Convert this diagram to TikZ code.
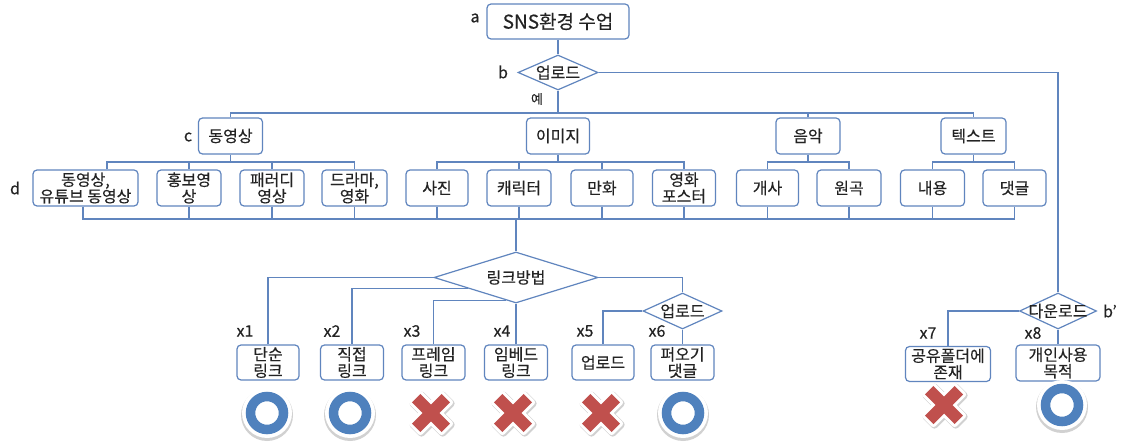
\documentclass[tikz,border=0pt]{standalone}
\usepackage{fontspec}
\setmainfont{Noto Sans CJK KR}[FakeBold=0.35]
\usetikzlibrary{shapes.geometric,calc}
\definecolor{lc}{RGB}{96,133,190}
\definecolor{okblue}{RGB}{79,129,189}
\definecolor{nored}{RGB}{192,80,77}
\definecolor{txt}{RGB}{35,35,35}
\begin{document}
\begin{tikzpicture}[x=1pt,y=-1pt,
  box/.style={draw=lc, line width=1.2pt, rounded corners=4pt, fill=white, inner sep=0pt,
    minimum height=35pt, align=center, text=txt, font=\fontsize{16}{16.5}\selectfont},
  dia/.style={draw=lc, line width=1.2pt, diamond, inner sep=0pt, fill=white},
  dtext/.style={text=txt, inner sep=0pt, font=\fontsize{16}{17}\selectfont},
  conn/.style={draw=lc, line width=1.2pt},
  lab/.style={text=txt, inner sep=0pt, font=\fontsize{16}{18}\selectfont},
  okpic/.pic={
    \fill[black!18] (0pt,-2pt) circle (26pt);
    \fill[white] (0,0) circle (25pt);
    \draw[okblue, line width=9.5pt] (0,0) circle (16.5pt);
  },
  nopic/.pic={
    \begin{scope}[rotate=45]
      \path[fill=black!18, draw=black!18, line width=7pt, line join=round, shift={(0pt,-1.5pt)}]
        (6,-21) -- (6,-6) -- (21,-6) -- (21,6) -- (6,6) -- (6,21) -- (-6,21) -- (-6,6)
        -- (-21,6) -- (-21,-6) -- (-6,-6) -- (-6,-21) -- cycle;
      \path[fill=white, draw=white, line width=6pt, line join=round]
        (6,-21) -- (6,-6) -- (21,-6) -- (21,6) -- (6,6) -- (6,21) -- (-6,21) -- (-6,6)
        -- (-21,6) -- (-21,-6) -- (-6,-6) -- (-6,-21) -- cycle;
      \fill[nored]
        (6,-21) -- (6,-6) -- (21,-6) -- (21,6) -- (6,6) -- (6,21) -- (-6,21) -- (-6,6)
        -- (-21,6) -- (-21,-6) -- (-6,-6) -- (-6,-21) -- cycle;
    \end{scope}
  }
]
\useasboundingbox[fill=white] (0,0) rectangle (1123,443);

% top
\node[box, minimum width=142pt, font=\fontsize{19}{20}\selectfont] (a) at (558,21.5) {SNS환경 수업};
\node[dia, minimum width=80pt, minimum height=35pt] (b) at (558,72.5) {};
\node[dtext] (bt) at (b) {업로드};

% level 1
\node[box, minimum width=64pt, minimum height=36pt] (c1) at (230.5,136) {동영상};
\node[box, minimum width=63pt, minimum height=36pt] (c2) at (558,136) {이미지};
\node[box, minimum width=64pt, minimum height=36pt] (c3) at (808,136) {음악};
\node[box, minimum width=65pt, minimum height=36pt] (c4) at (973.5,136) {텍스트};

% level 2
\node[box, minimum width=105pt, minimum height=36pt] (d1) at (85.5,188) {동영상,\\유튜브 동영상};
\node[box, minimum width=64pt, minimum height=36pt] (d2) at (189,188) {홍보영\\상};
\node[box, minimum width=64pt, minimum height=36pt] (d3) at (272,188) {패러디\\영상};
\node[box, minimum width=65pt, minimum height=36pt] (d4) at (354.5,188) {드라마,\\영화};
\node[box, minimum width=62pt, minimum height=36pt] (d5) at (437,188) {사진};
\node[box, minimum width=64pt, minimum height=36pt] (d6) at (519,188) {캐릭터};
\node[box, minimum width=62pt, minimum height=36pt] (d7) at (602,188) {만화};
\node[box, minimum width=63pt, minimum height=36pt] (d8) at (684,188) {영화\\포스터};
\node[box, minimum width=62pt, minimum height=36pt] (d9) at (767.5,188) {개사};
\node[box, minimum width=64pt, minimum height=36pt] (d10) at (849,188) {원곡};
\node[box, minimum width=64pt, minimum height=36pt] (d11) at (932.5,188) {내용};
\node[box, minimum width=63pt, minimum height=36pt] (d12) at (1014.5,188) {댓글};

% decisions
\node[dia, minimum width=164pt, minimum height=51pt] (L) at (516,277.5) {};
\node[dtext] (Lt) at (L) {링크방법};
\node[dia, minimum width=79pt, minimum height=36pt] (u) at (682.5,311) {};
\node[dtext] (ut) at (u) {업로드};
\node[dia, minimum width=77pt, minimum height=36pt] (dl) at (1058,311) {};
\node[dtext] (dlt) at (dl) {다운로드};

% leaves
\node[box, minimum width=62pt] (e1) at (268,362.5) {단순\\링크};
\node[box, minimum width=63pt] (e2) at (352,362.5) {직접\\링크};
\node[box, minimum width=63pt] (e3) at (433.5,362.5) {프레임\\링크};
\node[box, minimum width=63pt] (e4) at (516,362.5) {임베드\\링크};
\node[box, minimum width=62pt] (e5) at (603,362.5) {업로드};
\node[box, minimum width=63pt] (e6) at (682.5,362.5) {퍼오기\\댓글};
\node[box, minimum width=85pt] (e7) at (948,364) {공유폴더에\\존재};
\node[box, minimum width=84pt, minimum height=36pt] (e8) at (1058,363) {개인사용\\목적};

% connectors
\coordinate (bus1) at (0,113);
\coordinate (bus2) at (0,162);
\coordinate (bus3) at (0,219);
\draw[conn] (a) -- (b);
\draw[conn] (b.east) -| (dl.north);
\draw[conn] (b.south) -- (b.south |- bus1);
\draw[conn] (c1.north) |- (c4.north |- bus1) -- (c4.north);
\draw[conn] (c3.north) -- (c3.north |- bus1);

\coordinate (d1top) at ($(d1.north)+(21.5,0)$);
\coordinate (d1bot) at ($(d1.south)+(-2.5,0)$);
\draw[conn] (c1.south) -- (c1.south |- bus2);
\draw[conn] (d1top) |- (d4.north |- bus2) -- (d4.north);
\draw[conn] (d2.north) -- (d2.north |- bus2);
\draw[conn] (d3.north) -- (d3.north |- bus2);
\draw[conn] (c2.south) -- (c2.south |- bus2);
\draw[conn] (d5.north) |- (d8.north |- bus2) -- (d8.north);
\draw[conn] (d6.north) -- (d6.north |- bus2);
\draw[conn] (d7.north) -- (d7.north |- bus2);
\draw[conn] (c3.south) -- (c3.south |- bus2);
\draw[conn] (d9.north) |- (d10.north |- bus2) -- (d10.north);
\draw[conn] (c4.south) -- (c4.south |- bus2);
\draw[conn] (d11.north) |- (d12.north |- bus2) -- (d12.north);

\draw[conn] (d1bot) |- (d12.south |- bus3) -- (d12.south);
\foreach \n in {d2,d3,d4,d5,d6,d7,d8,d9,d10,d11}
  \draw[conn] (\n.south) -- (\n.south |- bus3);
\draw[conn] (L.north |- bus3) -- (L.north);

\coordinate (L2) at ($(L.west)!0.42!(L.south)$);
\coordinate (L3) at ($(L.west)!0.88!(L.south)$);
\draw[conn] (L.west) -| (e1.north);
\draw[conn] (L2) -| (e2.north);
\draw[conn] (L3) -| (e3.north);
\draw[conn] (L.south) -- (e4.north);
\draw[conn] (L.east) -| (u.north);
\draw[conn] (u.west) -| (e5.north);
\draw[conn] (u.south) -- (e6.north);
\draw[conn] (dl.west) -| (e7.north);
\draw[conn] (dl.south) -- (e8.north);

% labels
\node[lab] (la) at (475,18) {a};
\node[lab] (lb) at (503,72) {b};
\node[lab] (lbp) at (1110,311) {b'};
\node[lab] (lc) at (188,137) {c};
\node[lab] (ld) at (15,188) {d};
\node[text=txt, inner sep=0pt, font=\fontsize{13}{15}\selectfont] (ye) at (537,99) {예};
\node[lab] (x1) at (245,331) {x1};
\node[lab] (x2) at (332,331) {x2};
\node[lab] (x3) at (412,331) {x3};
\node[lab] (x4) at (502,331) {x4};
\node[lab] (x5) at (585,331) {x5};
\node[lab] (x6) at (657,331) {x6};
\node[lab] (x7) at (928,333) {x7};
\node[lab] (x8) at (1033,333) {x8};

% marks
\pic at (267,413) {okpic};
\pic at (350,413) {okpic};
\pic at (431,413) {nopic};
\pic at (513,413) {nopic};
\pic at (601,413) {nopic};
\pic at (683,413) {okpic};
\pic at (944,405) {nopic};
\pic at (1062,405) {okpic};
\end{tikzpicture}
\end{document}
